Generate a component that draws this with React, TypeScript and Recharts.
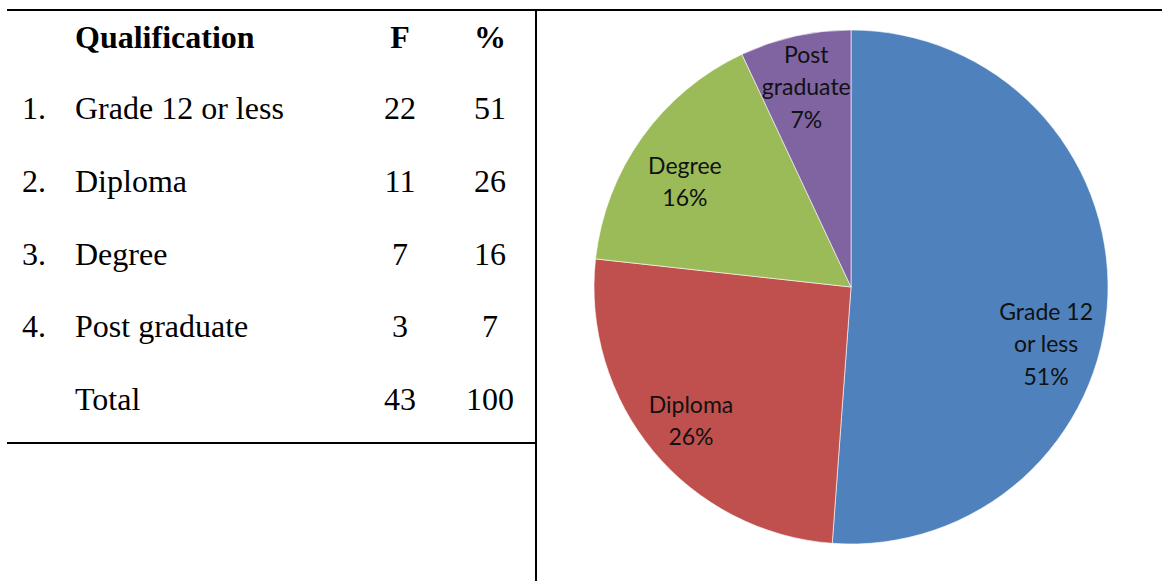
import { PieChart, Pie, Cell } from "recharts";

const QUALIFICATIONS = ["Grade 12 or less", "Diploma", "Degree", "Post graduate"];
const FREQUENCIES = [22, 11, 7, 3];
const PERCENTS = [51, 26, 16, 7];
const TOTAL_F = 43;
const TOTAL_PCT = 100;
// how the slice names break inside the pie
const PIE_LABEL_LINES = [["Grade 12", "or less"], ["Diploma"], ["Degree"], ["Post", "graduate"]];
const COLORS = ["#4F81BD", "#C0504D", "#9BBB59", "#8064A2"];

const pieData = QUALIFICATIONS.map((name, i) => ({ name, value: FREQUENCIES[i], lines: PIE_LABEL_LINES[i] }));

const RAD = Math.PI / 180;
const serif = "'Liberation Serif', 'Times New Roman', serif";
const labelFont = "Lato, 'Open Sans', sans-serif";

// Excel's best-fit moved the big slice label a bit down
const ANGLE_NUDGE = [-14, 0, 3, 0];
const RADIUS_FACTOR = [0.79, 0.81, 0.767, 0.8];

function renderLabel(props: any) {
  const { cx, cy, midAngle, outerRadius, percent, index, payload } = props;
  const ang = (midAngle + ANGLE_NUDGE[index]) * RAD;
  const r = outerRadius * RADIUS_FACTOR[index];
  const x = cx + r * Math.cos(ang);
  const y = cy - r * Math.sin(ang);
  const lines: string[] = [...(payload.lines || []), `${Math.round(percent * 100)}%`];
  const lh = 32.5;
  const y0 = y - ((lines.length - 1) * lh) / 2;
  return (
    <text x={x} textAnchor="middle" dominantBaseline="central" fill="#111" fontFamily={labelFont} fontSize={23}>
      {lines.map((l, i) => (
        <tspan key={i} x={x} y={y0 + i * lh}>
          {l}
        </tspan>
      ))}
    </text>
  );
}

const ROW_Y = [38, 109, 182, 255, 327, 400];
const LH = 40;

function Row({ y, num, label, f, pct, bold }: { y: number; num?: string; label: string; f: string | number; pct: string | number; bold?: boolean }) {
  const base: React.CSSProperties = {
    position: "absolute",
    top: y - LH / 2 - 1,
    height: LH,
    lineHeight: `${LH}px`,
    fontFamily: serif,
    fontSize: 32,
    fontWeight: bold ? "bold" : "normal",
    color: "#000",
    whiteSpace: "nowrap",
  };
  return (
    <>
      {num && <div style={{ ...base, left: 22 }}>{num}</div>}
      <div style={{ ...base, left: 75 }}>{label}</div>
      <div style={{ ...base, left: 360, width: 80, textAlign: "center" }}>{f}</div>
      <div style={{ ...base, left: 450, width: 80, textAlign: "center" }}>{pct}</div>
    </>
  );
}

export default function App() {
  return (
    <div style={{ position: "absolute", left: 0, top: 0, width: 1162, height: 581, background: "#fff", overflow: "hidden" }}>
      {/* table rules */}
      <div style={{ position: "absolute", left: 7, top: 9, width: 1155, height: 2, background: "#000" }} />
      <div style={{ position: "absolute", left: 535, top: 9, width: 2, height: 572, background: "#000" }} />
      <div style={{ position: "absolute", left: 7, top: 442, width: 529, height: 2, background: "#000" }} />

      <Row y={ROW_Y[0]} label="Qualification" f="F" pct="%" bold />
      {QUALIFICATIONS.map((q, i) => (
        <Row key={q} y={ROW_Y[i + 1]} num={`${i + 1}.`} label={q} f={FREQUENCIES[i]} pct={PERCENTS[i]} />
      ))}
      <Row y={ROW_Y[5]} label="Total" f={TOTAL_F} pct={TOTAL_PCT} />

      <div style={{ position: "absolute", left: 537, top: 0 }}>
        <PieChart width={625} height={581} margin={{ top: 0, right: 0, bottom: 0, left: 0 }}>
          <Pie
            data={pieData}
            dataKey="value"
            nameKey="name"
            cx={314}
            cy={287}
            outerRadius={257}
            startAngle={90}
            endAngle={-270}
            stroke="#ffffff"
            strokeWidth={0.6}
            label={renderLabel}
            labelLine={false}
            isAnimationActive={false}
          >
            {pieData.map((d, i) => (
              <Cell key={d.name} fill={COLORS[i]} />
            ))}
          </Pie>
        </PieChart>
      </div>
    </div>
  );
}
